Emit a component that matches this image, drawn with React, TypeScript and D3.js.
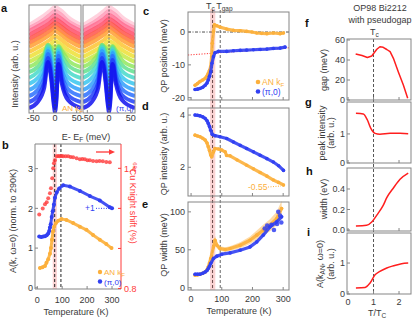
import React from "react";
import * as d3 from "d3";

type P = [number, number];

const FONT = "'Liberation Sans', Arial, Helvetica, sans-serif";
const TXT = "#3a3a3a";
const FRAME = "#858585";
const ORANGE = "#fcb03c";
const BLUE = "#3140f2";
const RED = "#ff3a3a";
const PINK = "#fad3d3";

// ---------- panel a : EDC waterfall ----------
const edcEnergyLow = [-60, -40, -25, -16, -8, -3, 0, 3, 8, 16, 30, 60];
const edcLowT = [
  [5, 11, 25, 51, 31, 9, 1, 11, 49, 29, 13, 5],
  [11, 17, 30, 55, 35, 13, 5, 15, 53, 33, 18, 11],
  [17, 23, 35, 59, 41, 21, 13, 23, 57, 38, 24, 17],
  [23, 29, 40, 62, 46, 29, 21, 30, 60, 43, 30, 23],
  [29, 35, 45, 64, 51, 37, 31, 38, 62, 48, 36, 29],
  [35, 41, 50, 66, 56, 47, 43, 48, 64, 53, 42, 35],
  [41, 46, 55, 68, 61, 55, 53, 56, 66, 58, 48, 41],
  [46, 51, 59, 68, 65, 62, 61, 62, 67, 62, 53, 46],
];
const edcEnergyHigh = [-60, -30, -12, 0, 12, 30, 60];
const edcHighT = [
  [51, 58, 63, 67, 64, 58, 51],
  [56, 63, 68, 72, 69, 63, 56],
  [61, 68, 73, 77, 74, 68, 61],
  [66, 73, 78, 82, 79, 73, 66],
  [70, 77, 82, 86, 83, 77, 70],
  [74, 81, 86, 90, 87, 81, 74],
  [78, 85, 90, 94, 91, 85, 78],
  [82, 89, 94, 98, 95, 89, 82],
  [85, 92, 98, 102, 99, 92, 85],
  [88, 96, 102, 106, 103, 96, 88],
];
const aTicks = [-50, 0, 50];
const rainbowStops = [
  "#1212ee", "#2858ff", "#30a8ff", "#3cdcea", "#5ee07a", "#bcee44",
  "#ffe030", "#ffa830", "#ff6038", "#ff3c60", "#ff82a8", "#ffcad8",
];

// ---------- shared temperature info ----------
const tempTicks = [0, 100, 200, 300];
const tc = 70;
const tgap = 95;
const tcBand = [62, 79];

// ---------- panel b ----------
const bTicksLeft = [0, 1, 2, 3];
const bTicksRight = [0.8, 1.0, 1.2, 1.4];
const bRightLabels = [0.8, 1.4];
const bOrange: P[] = [
  [11, 0.5], [21, 0.52], [31, 0.55], [37, 0.63], [44, 0.72], [51, 0.86], [55, 1.0],
  [59, 1.21], [63, 1.42], [68, 1.54], [75, 1.63], [84, 1.69], [97, 1.73], [117, 1.71],
  [144, 1.63], [171, 1.54], [197, 1.46], [224, 1.33], [251, 1.21], [277, 1.1], [298, 1.0],
];
const bBlue: P[] = [
  [8, 1.29], [16, 1.28], [24, 1.29], [31, 1.3], [38, 1.32], [44, 1.37], [48, 1.43], [51, 1.52],
  [54, 1.6], [58, 1.78], [62, 1.93], [67, 2.1], [71, 2.27], [78, 2.4], [88, 2.5], [104, 2.58],
  [131, 2.55], [171, 2.44], [211, 2.31], [251, 2.2], [291, 2.03], [300, 2.0],
];
const bKnight: P[] = [
  [8, 1.17], [22, 1.2], [31, 1.22], [38, 1.23], [44, 1.25], [51, 1.275], [55, 1.3], [60, 1.35],
  [64, 1.4], [67, 1.425], [71, 1.44], [78, 1.46], [85, 1.462], [91, 1.46], [98, 1.462],
  [104, 1.46], [114, 1.46], [124, 1.46], [134, 1.457], [144, 1.455], [158, 1.45], [171, 1.445],
  [181, 1.447], [191, 1.445], [201, 1.44], [211, 1.44], [224, 1.437], [238, 1.435],
  [250, 1.437], [263, 1.435], [277, 1.432], [291, 1.43],
];

// ---------- panel c ----------
const cTicks = [-20, -10, 0];
const cOrange: P[] = [
  [13, -16.2], [21, -15.7], [29, -15.1], [38, -14.6], [46, -14.1], [52, -13.4], [56, -12.6],
  [60, -11.7], [64, -10.5], [67, -7.5], [69, -3.4], [73, 0.2], [76, 2.2], [84, 1.9], [94, 1.5],
  [116, 0.9], [138, 0.5], [160, 0.4], [181, 0.2], [198, 0.0], [214, -0.3], [230, -0.4],
  [247, -0.5], [268, -0.3], [290, -0.5], [301, -0.3],
];
const cBlue: P[] = [
  [13, -17.5], [21, -17.4], [29, -17.2], [38, -16.8], [46, -16.2], [52, -15.5], [56, -14.6],
  [60, -13.5], [64, -12.1], [68, -9.5], [73, -7.5], [78, -6.3], [89, -5.9], [116, -5.9],
  [138, -5.7], [160, -5.6], [181, -5.5], [203, -5.4], [225, -5.3], [247, -5.2], [268, -5.0],
  [290, -4.9], [306, -4.6],
];
const cFit: P[] = [[-10, -7.0], [319, -4.8]];

// ---------- panel d ----------
const dTicks = [2, 4];
const dBlue: P[] = [
  [13, 4.0], [21, 3.99], [29, 3.97], [38, 3.93], [46, 3.87], [52, 3.78], [56, 3.68], [60, 3.56],
  [64, 3.42], [69, 3.26], [78, 3.21], [94, 3.17], [116, 3.1], [138, 2.97], [160, 2.84],
  [181, 2.72], [203, 2.59], [225, 2.46], [247, 2.33], [268, 2.2], [285, 2.06], [301, 1.88],
];
const dOrange: P[] = [
  [13, 3.23], [21, 3.2], [29, 3.17], [38, 3.11], [46, 3.04], [52, 2.93], [56, 2.79], [60, 2.64],
  [64, 2.47], [67, 2.4], [73, 2.59], [78, 2.72], [89, 2.7], [100, 2.66], [111, 2.59],
  [116, 2.45], [127, 2.44], [150, 2.28], [181, 2.08], [203, 1.94], [225, 1.8], [247, 1.66],
  [268, 1.51], [285, 1.42], [301, 1.32],
];

// ---------- panel e ----------
const eTicks = [0, 50, 100];
const eBlue: P[] = [
  [13, 17.8], [21, 17.8], [29, 17.8], [38, 19.0], [46, 20.8], [52, 22.8], [56, 25.3],
  [60, 28.4], [64, 31.9], [73, 38.5], [84, 41.6], [100, 44.2], [127, 45.9], [160, 49.5],
  [192, 53.8], [214, 60.4], [235, 69.3], [257, 80.2], [279, 86.8], [295, 93.4],
];
const eBlueScatter: P[] = [
  [240, 78], [248, 82], [262, 83], [270, 76], [280, 84], [284, 100], [290, 95], [294, 86],
];
const eOrange: P[] = [
  [13, 16.5], [21, 17.0], [29, 17.8], [38, 19.0], [46, 20.8], [52, 23.5], [56, 27.4],
  [60, 32.5], [64, 38.5], [73, 53.8], [78, 62.6], [84, 56.0], [94, 51.7], [111, 50.3],
  [127, 51.7], [160, 56.0], [192, 62.6], [214, 69.3], [235, 75.9], [257, 82.4], [279, 91.2],
  [295, 104.5],
];
const eOrangeErr = [1, 1, 1, 1, 1, 1.5, 2, 2.5, 3, 4, 6, 4, 3, 3, 3, 4, 5, 6, 7, 8, 9, 10];

// ---------- panels f-i (vs T/Tc) ----------
const ratioTicks = [0, 1, 2];
const fTicks = [0, 20, 40, 60];
const gTicks = [0, 1];
const hTicks = [0, 0.2, 0.4];
const iTicks = [0, 1];
const fGap: P[] = [
  [0.3, 46], [0.55, 44.5], [0.76, 42.5], [0.93, 44], [1.13, 50.7], [1.25, 53.3], [1.38, 52.7],
  [1.52, 50.5], [1.65, 48.3], [1.78, 41.7], [1.97, 28.3], [2.17, 15], [2.34, 1.7],
];
const gPeak: P[] = [
  [0.31, 1.71], [0.6, 1.69], [0.76, 1.48], [0.89, 1.2], [1.06, 1.02], [1.25, 0.99],
  [1.65, 1.02], [2.04, 1.02], [2.36, 1.01],
];
const hWidth: P[] = [
  [0.31, 0.038], [0.73, 0.045], [0.93, 0.078], [1.13, 0.145], [1.38, 0.24], [1.52, 0.315],
  [1.78, 0.41], [2.04, 0.495], [2.36, 0.555],
];
const iWeight: P[] = [
  [0.31, 0.19], [0.67, 0.21], [0.86, 0.35], [1.06, 0.62], [1.25, 0.73], [1.52, 0.84],
  [1.78, 0.91], [2.1, 0.98], [2.36, 1.0],
];

type Scale = d3.ScaleLinear<number, number>;

function Letter({ x, y, t }: { x: number; y: number; t: string }) {
  return (
    <text x={x} y={y} fontSize={11} fontWeight="bold" fill="#111">
      {t}
    </text>
  );
}

function Frame({ x0, x1, y0, y1, stroke = FRAME }: any) {
  return <rect x={x0} y={y0} width={x1 - x0} height={y1 - y0} fill="none" stroke={stroke} strokeWidth={1} />;
}

function XTicks({ x, vals, y, labels, labelY, fmt }: any) {
  return (
    <g>
      {vals.map((v: number) => (
        <g key={v}>
          <line x1={x(v)} x2={x(v)} y1={y} y2={y - 3} stroke={FRAME} strokeWidth={1} />
          {labels && (
            <text x={x(v)} y={labelY} fontSize={9} fill={TXT} textAnchor="middle">
              {fmt ? fmt(v) : String(v)}
            </text>
          )}
        </g>
      ))}
    </g>
  );
}

function YTicks({ y, vals, x, labelX, fmt, labels = true }: any) {
  return (
    <g>
      {vals.map((v: number) => (
        <g key={v}>
          <line x1={x} x2={x + 3} y1={y(v)} y2={y(v)} stroke={FRAME} strokeWidth={1} />
          {labels && (
            <text x={labelX} y={y(v) + 3.2} fontSize={9} fill={TXT} textAnchor="end">
              {fmt ? fmt(v) : String(v)}
            </text>
          )}
        </g>
      ))}
    </g>
  );
}

function Series({ data, x, y, color, width = 3.2, r = 1.8, curve = d3.curveLinear }: any) {
  const line = d3.line<P>().x((d) => x(d[0])).y((d) => y(d[1])).curve(curve);
  return (
    <g>
      <path d={line(data) || ""} fill="none" stroke={color} strokeWidth={width} strokeLinejoin="round" strokeLinecap="round" opacity={0.9} />
      {data.map((d: P, i: number) => (
        <circle key={i} cx={x(d[0])} cy={y(d[1])} r={r} fill={color} />
      ))}
    </g>
  );
}

function VLabel({ cx, cy, children, rot = -90, size = 9, fill = TXT }: any) {
  return (
    <text transform={`translate(${cx},${cy}) rotate(${rot})`} fontSize={size} fill={fill} textAnchor="middle">
      {children}
    </text>
  );
}

function PanelA() {
  const y = d3.scaleLinear().domain([0, 108]).range([113, 5]);
  const boxes = [
    { x: d3.scaleLinear().domain([-60, 60]).range([29, 81]), id: "clipA1", x0: 29, x1: 81 },
    { x: d3.scaleLinear().domain([-60, 60]).range([83, 135]), id: "clipA2", x0: 83, x1: 135 },
  ];
  const curves: P[][] = [
    ...edcLowT.map((row) => row.map((v, j) => [edcEnergyLow[j], v] as P)),
    ...edcHighT.map((row) => row.map((v, j) => [edcEnergyHigh[j], v] as P)),
  ];
  const n = curves.length;
  const col = d3.interpolateRgbBasis(rainbowStops);
  return (
    <g>
      <defs>
        {boxes.map((b) => (
          <clipPath id={b.id} key={b.id}>
            <rect x={b.x0} y={5} width={b.x1 - b.x0} height={108} />
          </clipPath>
        ))}
      </defs>
      {boxes.map((b) => {
        const line = d3.line<P>().x((d) => b.x(d[0])).y((d) => y(d[1])).curve(d3.curveMonotoneX);
        return (
          <g key={b.id}>
            <g clipPath={`url(#${b.id})`}>
              {curves
                .map((c, i) => ({ c, i }))
                .reverse()
                .map(({ c, i }) => (
                  <path key={i} d={line(c) || ""} fill="none" stroke={col(i / (n - 1))} strokeWidth={4} strokeLinejoin="round" opacity={0.85} />
                ))}
            </g>
            <line x1={b.x(0)} x2={b.x(0)} y1={6} y2={112} stroke="#444" strokeWidth={0.8} strokeDasharray="2,1.5" />
            <Frame x0={b.x0} x1={b.x1} y0={5} y1={113} />
            <XTicks x={b.x} vals={aTicks} y={113} labels labelY={121} />
          </g>
        );
      })}
      <text x={62} y={111} fontSize={8} fill={ORANGE}>
        AN k<tspan fontSize={6} dy={1.5}>F</tspan>
      </text>
      <text x={116} y={111} fontSize={8} fill={BLUE}>(π,0)</text>
      <VLabel cx={18} cy={74}>Intensity (arb. u.)</VLabel>
      <text x={86} y={140} fontSize={9} fill={TXT} textAnchor="middle">
        E- E<tspan fontSize={6.5} dy={2}>F</tspan>
        <tspan dy={-2}> (meV)</tspan>
      </text>
      <Letter x={1} y={12} t="a" />
    </g>
  );
}

function PanelB() {
  const x = d3.scaleLinear().domain([-9, 336]).range([35, 121]);
  const yL = d3.scaleLinear().domain([-0.03, 3.62]).range([289, 144]);
  const yR = d3.scaleLinear().domain([0.7975, 1.5214]).range([289, 144]);
  return (
    <g>
      <rect x={x(tcBand[0])} y={144} width={x(tcBand[1]) - x(tcBand[0])} height={145} fill={PINK} />
      <line x1={x(tc)} x2={x(tc)} y1={144} y2={289} stroke="#222" strokeWidth={1} strokeDasharray="3,2" />
      <line x1={x(tgap)} x2={x(tgap)} y1={144} y2={289} stroke="#222" strokeWidth={1} strokeDasharray="3,2" />
      {bKnight.map((d, i) => (
        <circle key={i} cx={x(d[0])} cy={yR(d[1])} r={2} fill={RED} opacity={0.8} />
      ))}
      <Series data={bOrange} x={x} y={yL} color={ORANGE} width={3} r={2} />
      <Series data={bBlue} x={x} y={yL} color={BLUE} width={3} r={2} />
      <line x1={35} x2={121} y1={144} y2={144} stroke={FRAME} />
      <line x1={35} x2={121} y1={289} y2={289} stroke={FRAME} />
      <line x1={35} x2={35} y1={144} y2={289} stroke={FRAME} />
      <line x1={121} x2={121} y1={144} y2={289} stroke={RED} />
      <XTicks x={x} vals={tempTicks} y={289} labels labelY={303} />
      <YTicks y={yL} vals={bTicksLeft} x={35} labelX={33} />
      {bTicksRight.map((v) => (
        <line key={v} x1={118} x2={121} y1={yR(v)} y2={yR(v)} stroke={RED} />
      ))}
      {bRightLabels.map((v) => (
        <text key={v} x={124} y={yR(v) + 3.2} fontSize={9} fill={RED}>
          {v.toFixed(1)}
        </text>
      ))}
      <line x1={96} x2={110} y1={152} y2={152} stroke={RED} strokeWidth={1.3} />
      <path d="M109,149.2 L115,152 L109,154.8 Z" fill={RED} />
      <text x={85} y={yL(2.0) + 3} fontSize={8.5} fill={BLUE}>+1</text>
      <line x1={96} x2={111} y1={yL(2.0)} y2={yL(2.0)} stroke={BLUE} strokeWidth={1} strokeDasharray="1,1.5" />
      <circle cx={100} cy={272} r={2.2} fill={ORANGE} />
      <text x={104} y={275} fontSize={8} fill={ORANGE}>
        AN k<tspan fontSize={6} dy={1.5}>F</tspan>
      </text>
      <circle cx={100} cy={281.5} r={2.2} fill={BLUE} />
      <text x={104} y={284.5} fontSize={8} fill={BLUE}>(π,0)</text>
      <VLabel cx={16} cy={221}>A(k, ω=0) (norm. to 290K)</VLabel>
      <VLabel cx={130} cy={203} rot={90} fill={RED}>
        <tspan fontSize={6} dy={-3}>63</tspan>
        <tspan dy={3}>Cu Knight shift (%)</tspan>
      </VLabel>
      <text x={76} y={315} fontSize={9} fill={TXT} textAnchor="middle">Temperature (K)</text>
      <Letter x={2} y={149} t="b" />
    </g>
  );
}

function PanelCDE() {
  const x = d3.scaleLinear().domain([-10, 319]).range([188, 289]);
  const yc = d3.scaleLinear().domain([-20.7, 6.1]).range([100, 12]);
  const yd = d3.scaleLinear().domain([0.9, 4.27]).range([196, 108]);
  const ye = d3.scaleLinear().domain([-3, 113]).range([290, 202]);
  const errArea = d3
    .area<number>()
    .x((_, i) => x(eOrange[i][0]))
    .y0((_, i) => ye(eOrange[i][1] - eOrangeErr[i]))
    .y1((_, i) => ye(eOrange[i][1] + eOrangeErr[i]));
  const fitLine = d3.line<P>().x((d) => x(d[0])).y((d) => yc(d[1]));
  return (
    <g>
      <rect x={x(tcBand[0])} y={9} width={x(tcBand[1]) - x(tcBand[0])} height={281} fill={PINK} />
      <line x1={x(tc)} x2={x(tc)} y1={10} y2={290} stroke="#6a4a4a" strokeWidth={1} strokeDasharray="3,2" />
      <line x1={x(tgap)} x2={x(tgap)} y1={10} y2={290} stroke="#666" strokeWidth={1} strokeDasharray="3,2" />
      <text x={206} y={9} fontSize={9} fill={TXT}>
        T<tspan fontSize={6.5} dy={2}>c</tspan>
        <tspan dy={-2} dx={1.5}>T</tspan>
        <tspan fontSize={6.5} dy={2}>gap</tspan>
      </text>

      <line x1={188} x2={289} y1={yc(0)} y2={yc(0)} stroke="#222" strokeWidth={0.8} strokeDasharray="3,1.5,1,1.5" />
      <path d={fitLine(cFit) || ""} stroke={RED} strokeWidth={1} strokeDasharray="1.2,1.5" fill="none" />
      <Series data={cOrange} x={x} y={yc} color={ORANGE} />
      <Series data={cBlue} x={x} y={yc} color={BLUE} />
      <Frame x0={188} x1={289} y0={12} y1={100} />
      <YTicks y={yc} vals={cTicks} x={188} labelX={185} />
      <XTicks x={x} vals={tempTicks} y={100} />
      <circle cx={258} cy={82} r={2.3} fill={ORANGE} />
      <text x={262} y={85} fontSize={8.5} fill={ORANGE}>
        AN k<tspan fontSize={6} dy={1.5}>F</tspan>
      </text>
      <circle cx={258} cy={91.5} r={2.3} fill={BLUE} />
      <text x={262} y={94.5} fontSize={8.5} fill={BLUE}>(π,0)</text>
      <VLabel cx={167} cy={56}>QP position (meV)</VLabel>
      <Letter x={143} y={15} t="c" />

      <Series data={dOrange} x={x} y={yd} color={ORANGE} />
      <Series data={dBlue} x={x} y={yd} color={BLUE} />
      <Frame x0={188} x1={289} y0={108} y1={196} />
      <YTicks y={yd} vals={dTicks} x={188} labelX={185} />
      <XTicks x={x} vals={tempTicks} y={196} />
      <text x={248} y={190} fontSize={8.5} fill={ORANGE}>-0.55</text>
      <line x1={268} x2={281} y1={187} y2={186} stroke={ORANGE} strokeWidth={1} strokeDasharray="1,1.5" />
      <VLabel cx={167} cy={154}>QP intensity (arb. u.)</VLabel>
      <Letter x={142} y={110} t="d" />

      <path d={errArea(eOrangeErr) || ""} fill={ORANGE} opacity={0.45} />
      <Series data={eOrange} x={x} y={ye} color={ORANGE} />
      <Series data={eBlue} x={x} y={ye} color={BLUE} />
      {eBlueScatter.map((d, i) => (
        <circle key={i} cx={x(d[0])} cy={ye(d[1])} r={2.3} fill={BLUE} opacity={0.85} />
      ))}
      <Frame x0={188} x1={289} y0={202} y1={290} />
      <YTicks y={ye} vals={eTicks} x={188} labelX={185} />
      <XTicks x={x} vals={tempTicks} y={290} labels labelY={302} />
      <VLabel cx={167} cy={245}>QP width (meV)</VLabel>
      <text x={239} y={314} fontSize={9} fill={TXT} textAnchor="middle">Temperature (K)</text>
      <Letter x={142} y={208} t="e" />
    </g>
  );
}

function PanelFGHI() {
  const x = d3.scaleLinear().domain([-0.04, 2.47]).range([347, 411]);
  const yf = d3.scaleLinear().domain([0, 61]).range([100, 39]);
  const yg = d3.scaleLinear().domain([0, 2.1]).range([163, 102]);
  const yh = d3.scaleLinear().domain([-0.01, 0.605]).range([231, 168]);
  const yi = d3.scaleLinear().domain([0, 1.97]).range([294, 233]);
  const mk = (y: Scale, curve: any) =>
    d3.line<P>().x((d) => x(d[0])).y((d) => y(d[1])).curve(curve);
  const panels = [
    { y: yf, y0: 39, y1: 100, data: fGap, ticks: fTicks, fmt: (v: number) => String(v), curve: d3.curveLinear },
    { y: yg, y0: 102, y1: 163, data: gPeak, ticks: gTicks, fmt: (v: number) => String(v), curve: d3.curveMonotoneX },
    { y: yh, y0: 168, y1: 231, data: hWidth, ticks: hTicks, fmt: (v: number) => v.toFixed(1), curve: d3.curveMonotoneX },
    { y: yi, y0: 233, y1: 294, data: iWeight, ticks: iTicks, fmt: (v: number) => String(v), curve: d3.curveMonotoneX },
  ];
  return (
    <g>
      <text x={380} y={11} fontSize={9} fill={TXT} textAnchor="middle">OP98 Bi2212</text>
      <text x={380} y={23} fontSize={9} fill={TXT} textAnchor="middle">with pseudogap</text>
      <text x={370} y={35} fontSize={9} fill={TXT}>
        T<tspan fontSize={6.5} dy={2}>c</tspan>
      </text>
      <line x1={x(1)} x2={x(1)} y1={39} y2={294} stroke="#555" strokeWidth={1} strokeDasharray="3,2" />
      {panels.map((p, k) => (
        <g key={k}>
          <path d={mk(p.y, p.curve)(p.data) || ""} fill="none" stroke="#ff1e1e" strokeWidth={1.5} strokeLinejoin="round" />
          <Frame x0={347} x1={411} y0={p.y0} y1={p.y1} />
          <YTicks y={p.y} vals={p.ticks} x={347} labelX={345} fmt={p.fmt} />
          <XTicks x={x} vals={ratioTicks} y={p.y1} labels={k === 3} labelY={305} />
        </g>
      ))}
      <VLabel cx={327} cy={70}>gap (meV)</VLabel>
      <VLabel cx={325} cy={133}>peak intensity</VLabel>
      <VLabel cx={334} cy={133}>(arb. u.)</VLabel>
      <VLabel cx={327} cy={199}>width (eV)</VLabel>
      <VLabel cx={323} cy={264}>
        A(k<tspan fontSize={6.5} dy={2}>AN</tspan>
        <tspan dy={-2}>, ω=0)</tspan>
      </VLabel>
      <VLabel cx={334} cy={264}>(arb. u.)</VLabel>
      <text x={377} y={316} fontSize={9} fill={TXT} textAnchor="middle">
        T/T<tspan fontSize={6.5} dy={2}>C</tspan>
      </text>
      <Letter x={305} y={27} t="f" />
      <Letter x={305} y={106} t="g" />
      <Letter x={306} y={175} t="h" />
      <Letter x={307} y={236} t="i" />
    </g>
  );
}

export default function App() {
  return (
    <svg
      width={416}
      height={321}
      viewBox="0 0 416 321"
      style={{ position: "absolute", left: 0, top: 0, background: "#fff" }}
      fontFamily={FONT}
    >
      <rect width={416} height={321} fill="#fff" />
      <PanelA />
      <PanelB />
      <PanelCDE />
      <PanelFGHI />
    </svg>
  );
}
